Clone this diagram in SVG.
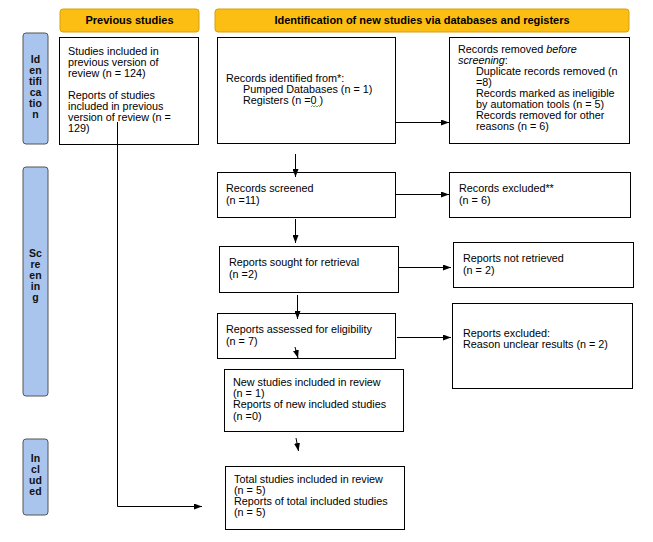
<svg xmlns="http://www.w3.org/2000/svg" width="653" height="542" viewBox="0 0 653 542">
<defs>
<style>
text{font-family:"Liberation Sans",Arial,sans-serif;font-size:10.8px;fill:#000;}
.box{fill:#fff;stroke:#000;stroke-width:1;}
.hdr{fill:#fdbe14;stroke:#d4a010;stroke-width:1;}
.side{fill:#a9c5ee;stroke:#555;stroke-width:1;}
.ht{font-weight:bold;font-size:11px;text-anchor:middle;}
.st{font-weight:bold;font-size:10.5px;text-anchor:middle;fill:#111;}
.ln{fill:none;stroke:#000;stroke-width:1;}
</style>
<marker id="ah" viewBox="0 0 8 6" refX="8" refY="3" markerWidth="8" markerHeight="6" markerUnits="userSpaceOnUse" orient="auto">
<path d="M0,0 L8,3 L0,6 Z" fill="#000"/>
</marker>
</defs>

<g id="hdr-prev"><rect class="hdr" x="60" y="9" width="139" height="23" rx="3"/><text class="ht" x="129.5" y="24">Previous studies</text></g>
<g id="hdr-new"><rect class="hdr" x="215" y="9" width="414" height="23" rx="3"/><text class="ht" x="422" y="24">Identification of new studies via databases and registers</text></g>

<g id="side-ident"><rect class="side" x="23" y="33" width="25" height="111" rx="3"/>
<text class="st"><tspan x="35.5" y="63">Id</tspan><tspan x="35.5" y="74">en</tspan><tspan x="35.5" y="85">tifi</tspan><tspan x="35.5" y="96">ca</tspan><tspan x="35.5" y="107">tio</tspan><tspan x="35.5" y="118">n</tspan></text></g>
<g id="side-screen"><rect class="side" x="23" y="167" width="25" height="229" rx="3"/>
<text class="st"><tspan x="35.5" y="257">Sc</tspan><tspan x="35.5" y="268">re</tspan><tspan x="35.5" y="279">en</tspan><tspan x="35.5" y="290">in</tspan><tspan x="35.5" y="301">g</tspan></text></g>
<g id="side-incl"><rect class="side" x="23" y="439" width="25" height="76" rx="3"/>
<text class="st"><tspan x="35.5" y="462">In</tspan><tspan x="35.5" y="473">cl</tspan><tspan x="35.5" y="484">ud</tspan><tspan x="35.5" y="495">ed</tspan></text></g>

<g id="prev-studies"><rect class="box" x="59.5" y="37.5" width="139" height="107"/>
<text><tspan x="68" y="55">Studies included in</tspan><tspan x="68" y="66">previous version of</tspan><tspan x="68" y="77">review (n = 124)</tspan><tspan x="68" y="99">Reports of studies</tspan><tspan x="68" y="110">included in previous</tspan><tspan x="68" y="121">version of review (n =</tspan><tspan x="68" y="132">129)</tspan></text></g>

<g id="records-identified"><rect class="box" x="217.5" y="37.5" width="178" height="106"/>
<text><tspan x="226" y="82">Records identified from*:</tspan><tspan x="243" y="93">Pumped Databases (n = 1)</tspan><tspan x="243" y="104">Registers (n =0 )</tspan></text>
<path d="M311,107 l1.5,-1.5 l1.5,1.5 l1.5,-1.5 l1.5,1.5 l1.5,-1.5 l1.5,1.5" fill="none" stroke="#3a9a3a" stroke-width="0.8"/></g>

<g id="records-removed"><rect class="box" x="449.5" y="37.5" width="180" height="106"/>
<text><tspan x="458" y="53">Records removed <tspan font-style="italic">before</tspan></tspan><tspan x="458" y="64" font-style="italic">screening</tspan><tspan>:</tspan><tspan x="476" y="75">Duplicate records removed (n</tspan><tspan x="476" y="86">=8)</tspan><tspan x="476" y="97">Records marked as ineligible</tspan><tspan x="476" y="108">by automation tools (n = 5)</tspan><tspan x="476" y="119">Records removed for other</tspan><tspan x="476" y="130">reasons (n = 6)</tspan></text></g>

<g id="records-screened"><rect class="box" x="217.5" y="172.5" width="178" height="45" stroke="#444"/>
<text><tspan x="226" y="192">Records screened</tspan><tspan x="226" y="204">(n =11)</tspan></text></g>

<g id="records-excluded"><rect class="box" x="449.5" y="172.5" width="181" height="45" stroke="#444"/>
<text><tspan x="459" y="192">Records excluded**</tspan><tspan x="459" y="204">(n = 6)</tspan></text></g>

<g id="reports-sought"><rect class="box" x="219.5" y="246.5" width="179" height="46"/>
<text><tspan x="229" y="266">Reports sought for retrieval</tspan><tspan x="229" y="278">(n =2)</tspan></text></g>

<g id="reports-not-retrieved"><rect class="box" x="453.5" y="242.5" width="180" height="45"/>
<text><tspan x="463" y="262">Reports not retrieved</tspan><tspan x="463" y="274">(n = 2)</tspan></text></g>

<g id="reports-assessed"><rect class="box" x="217.5" y="313.5" width="178" height="45" stroke="#333"/>
<text><tspan x="226" y="333">Reports assessed for eligibility</tspan><tspan x="226" y="345">(n = 7)</tspan></text></g>

<g id="reports-excluded"><rect class="box" x="452.5" y="303.5" width="180" height="85"/>
<text><tspan x="463" y="337">Reports excluded:</tspan><tspan x="463" y="348">Reason unclear results (n = 2)</tspan></text></g>

<g id="new-included"><rect class="box" x="224.5" y="369.5" width="179" height="62"/>
<text><tspan x="233" y="386">New studies included in review</tspan><tspan x="233" y="397">(n = 1)</tspan><tspan x="233" y="408">Reports of new included studies</tspan><tspan x="233" y="420">(n =0)</tspan></text></g>

<g id="total-included"><rect class="box" x="225.5" y="466.5" width="179" height="63" stroke="#555"/>
<text><tspan x="234" y="483">Total studies included in review</tspan><tspan x="234" y="494">(n = 5)</tspan><tspan x="234" y="505">Reports of total included studies</tspan><tspan x="234" y="516">(n = 5)</tspan></text></g>

<g id="connectors">
<path class="ln" d="M395,122.5 H449" marker-end="url(#ah)"/>
<path class="ln" d="M295.5,154 V177" marker-end="url(#ah)"/>
<path class="ln" d="M395,194.5 H449" marker-end="url(#ah)"/>
<path class="ln" d="M295.5,219 V243" marker-end="url(#ah)"/>
<path class="ln" d="M399,267.5 H451" marker-end="url(#ah)"/>
<path class="ln" d="M297.5,295 V319" marker-end="url(#ah)"/>
<path class="ln" d="M397,337.5 H451" marker-end="url(#ah)"/>
<path class="ln" d="M295,347 L298,358" marker-end="url(#ah)"/>
<path class="ln" d="M296,438 L298.5,451" marker-end="url(#ah)"/>
<path class="ln" d="M117.5,122 V506.5 H202" marker-end="url(#ah)"/>
</g>
</svg>
